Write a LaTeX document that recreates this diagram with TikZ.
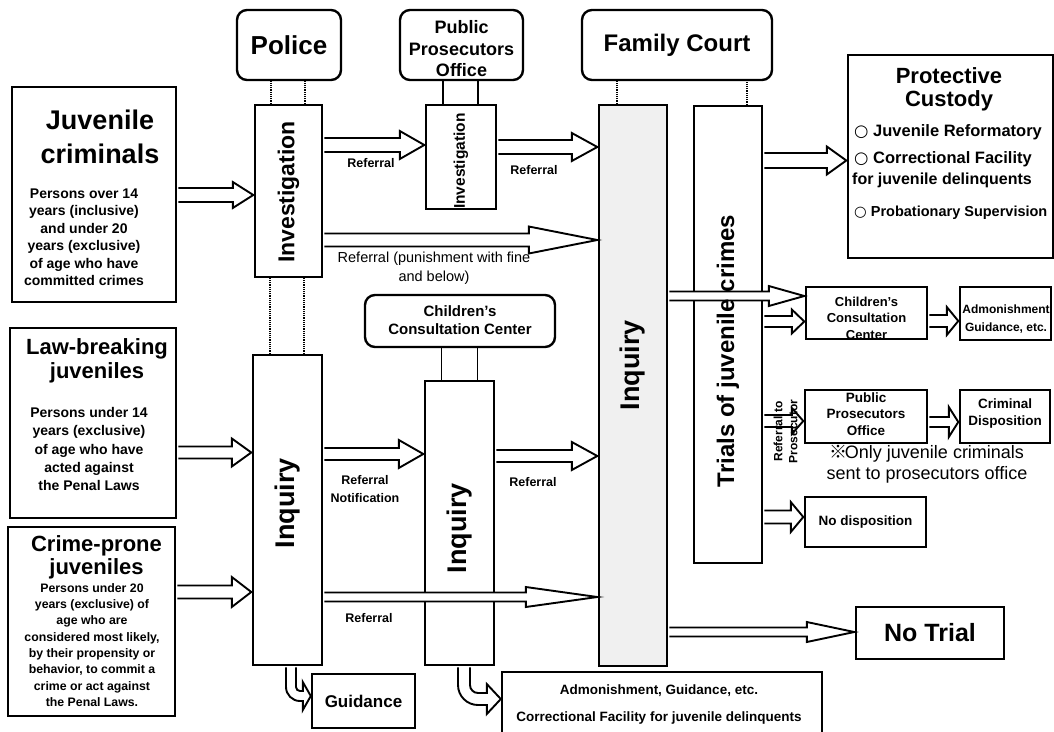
\documentclass[tikz,border=0pt]{standalone}
\usepackage{fontspec}
\setmainfont{Liberation Sans}
\newfontfamily\cjkfont{Noto Sans CJK JP}
\newfontfamily\symfont{DejaVu Sans}
\usetikzlibrary{calc}
\newcommand\fsz[2]{\fontsize{#1}{#2}\selectfont}
% hollow block arrow: from node, to node, row y, shaft half width, head half width, head length
\newcommand\harrow[6]{%
  \draw[blk] let \p1=(#1.east |- 0,#3), \p2=(#2.west |- 0,#3) in
    (\x1+1.2pt,\y1+#4pt) -- (\x2-#6pt,\y1+#4pt) -- (\x2-#6pt,\y1+#5pt) -- (\x2-0.5pt,\y1)
    -- (\x2-#6pt,\y1-#5pt) -- (\x2-#6pt,\y1-#4pt) -- (\x1+1.2pt,\y1-#4pt);}
% hollow arrow leaving a box downwards and turning right into another box
% from, to, shaft x, row y, shaft half width, head half width, head length, outer radius, inner radius
\newcommand\bentarrow[9]{%
  \draw[blk] let \p1=(#1.south -| #3,0), \p2=(#2.west |- 0,#4) in
    (\x1-#5pt,\y1-1.2pt) -- (\x1-#5pt,\y2-#5pt+#8pt)
    arc[start angle=180,end angle=270,radius=#8pt]
    -- (\x2-#7pt,\y2-#5pt) -- (\x2-#7pt,\y2-#6pt) -- (\x2,\y2) -- (\x2-#7pt,\y2+#6pt)
    -- (\x2-#7pt,\y2+#5pt) -- (\x1+#5pt+#9pt,\y2+#5pt)
    arc[start angle=270,end angle=180,radius=#9pt]
    -- (\x1+#5pt,\y1-1.2pt);}
\begin{document}
\begin{tikzpicture}[x=1pt,y=-1pt,
  box/.style={draw, line width=2.4pt, fill=white, inner sep=0pt},
  rbox/.style={box, rounded corners=10pt},
  blk/.style={draw, line width=1.9pt, fill=white, line join=miter},
  tie/.style={line width=1.2pt, densely dotted},
  tiesolid/.style={line width=1.2pt},
  txt/.style={inner sep=0pt, align=center},
]
\useasboundingbox (0,0) rectangle (1054,731);

% ---------- who comes in ----------
\node[box, minimum width=164pt, minimum height=215pt] (juv) at (94,194.5) {};
\node[txt, font=\fsz{27}{34}\bfseries] (juv-t) at (100,137) {Juvenile\\criminals};
\node[txt, font=\fsz{14}{17.5}\bfseries] (juv-b) at (84,237) {Persons over 14\\years (inclusive)\\and under 20\\years (exclusive)\\of age who have\\committed crimes};

\node[box, minimum width=166pt, minimum height=190pt] (law) at (93,423) {};
\node[txt, font=\fsz{22}{24}\bfseries] (law-t) at (97,361) {Law-breaking\\juveniles};
\node[txt, font=\fsz{14}{18.2}\bfseries] (law-b) at (89,449) {Persons under 14\\years (exclusive)\\of age who have\\acted against\\the Penal Laws};

\node[box, minimum width=167pt, minimum height=189pt] (crime) at (91.5,621.5) {};
\node[txt, font=\fsz{22}{23}\bfseries] (crime-t) at (96.5,557) {Crime-prone\\juveniles};
\node[txt, font=\fsz{12.3}{16.3}\bfseries] (crime-b) at (92,645) {Persons under 20\\years (exclusive) of\\age who are\\considered most likely,\\by their propensity or\\behavior, to commit a\\crime or act against\\the Penal Laws.};

% ---------- police ----------
\node[rbox, minimum width=104pt, minimum height=70pt, font=\fsz{26}{30}\bfseries] (police) at (289,45) {Police};
\node[box, minimum width=67pt, minimum height=172pt] (pinv) at (288.5,191) {};
\node[box, minimum width=69pt, minimum height=310pt] (pinq) at (287.5,510) {};

% ---------- public prosecutors office ----------
\node[rbox, minimum width=123pt, minimum height=70pt] (ppo) at (461.5,45) {};
\node[box, minimum width=70pt, minimum height=104pt] (ppinv) at (461,157) {};

% ---------- children's consultation center ----------
\node[rbox, minimum width=190pt, minimum height=52pt] (ccc) at (460,321) {};
\node[box, minimum width=69pt, minimum height=284pt] (cinq) at (459.5,523) {};

% ---------- family court ----------
\node[rbox, minimum width=190pt, minimum height=70pt, font=\fsz{24}{28}\bfseries] (court) at (677,45) {Family Court};
\node[box, fill=black!6, minimum width=68pt, minimum height=561pt] (fcinq) at (633,385.5) {};
\node[box, minimum width=68pt, minimum height=457pt] (trials) at (728,334.5) {};

% ---------- outcomes ----------
\node[box, minimum width=205pt, minimum height=203pt] (prot) at (950.5,156.5) {};
\node[box, minimum width=121pt, minimum height=52pt] (ccr) at (866.5,313) {};
\node[box, minimum width=91pt, minimum height=53pt] (admr) at (1005.5,313.5) {};
\node[box, minimum width=122pt, minimum height=53pt] (ppr) at (866,416.5) {};
\node[box, minimum width=90pt, minimum height=53pt] (crim) at (1005,416.5) {};
\node[box, minimum width=121pt, minimum height=50pt, font=\fsz{13.5}{16}\bfseries] (nodisp) at (865.5,522) {No disposition};
\node[box, minimum width=148pt, minimum height=52pt, font=\fsz{25}{28}\bfseries] (notrial) at (930,633) {No Trial};
\node[box, minimum width=103pt, minimum height=54pt, font=\fsz{17}{20}\bfseries] (guid) at (363.5,701) {Guidance};
\node[box, minimum width=320pt, minimum height=68pt] (admb) at (662,706) {};

% ---------- ties between offices and their procedures ----------
\draw[tie] ([xshift=-17.5pt]pinv.north) -- ([xshift=-17.5pt]pinv.north |- police.south);
\draw[tie] ([xshift=16.5pt]pinv.north) -- ([xshift=16.5pt]pinv.north |- police.south);
\draw[tie] ([xshift=-17.5pt]pinq.north) -- ([xshift=-17.5pt]pinq.north |- pinv.south);
\draw[tie] ([xshift=16.5pt]pinq.north) -- ([xshift=16.5pt]pinq.north |- pinv.south);
\draw[tiesolid] ([xshift=-18pt]ppinv.north) -- ([xshift=-18pt]ppinv.north |- ppo.south);
\draw[tiesolid] ([xshift=17pt]ppinv.north) -- ([xshift=17pt]ppinv.north |- ppo.south);
\draw[tiesolid] ([xshift=-18pt]cinq.north) -- ([xshift=-18pt]cinq.north |- ccc.south);
\draw[tiesolid] ([xshift=18pt]cinq.north) -- ([xshift=18pt]cinq.north |- ccc.south);
\draw[tie] ([xshift=-16pt]fcinq.north) -- ([xshift=-16pt]fcinq.north |- court.south);
\draw[tie] ([xshift=19pt]trials.north) -- ([xshift=19pt]trials.north |- court.south);

% ---------- flows ----------
\harrow{juv}{pinv}{195}{7}{13}{21}
\harrow{law}{pinq}{452.5}{6}{14}{20}
\harrow{crime}{pinq}{592}{6.5}{15}{20}
\harrow{pinv}{ppinv}{145}{7}{14}{25}
\harrow{ppinv}{fcinq}{147}{7}{14}{26}
\harrow{pinv}{fcinq}{240}{6.5}{13.5}{69}
\harrow{pinq}{cinq}{454}{6}{14}{25}
\harrow{cinq}{fcinq}{456}{6}{14}{26}
\harrow{pinq}{fcinq}{597}{4.5}{10}{72}
\harrow{fcinq}{ccr}{296}{4.5}{10}{36}
\harrow{trials}{ccr}{321.5}{5.5}{12}{13}
\harrow{ccr}{admr}{321}{6}{14}{12}
\harrow{trials}{prot}{160.5}{7.5}{14}{20}
\harrow{trials}{ppr}{421}{6}{13}{12}
\harrow{ppr}{crim}{422}{5}{15}{10}
\harrow{trials}{nodisp}{517}{6.5}{15}{13}
\harrow{fcinq}{notrial}{632}{4.5}{10}{48}
\bentarrow{pinq}{guid}{291}{696}{5}{14}{8}{14}{4}
\bentarrow{cinq}{admb}{464}{699}{6}{15}{14}{20}{8}

% ---------- texts inside the boxes ----------
\node[txt, rotate=90, font=\fsz{23}{26}\bfseries] (pinv-t) at (288.5,192) {Investigation};
\node[txt, rotate=90, font=\fsz{27}{30}\bfseries] (pinq-t) at (287.5,503) {Inquiry};
\node[txt, font=\fsz{18}{21.5}\bfseries] (ppo-t) at (461.5,49) {Public\\Prosecutors\\Office};
\node[txt, rotate=90, font=\fsz{15.5}{18}\bfseries] (ppinv-t) at (461,161) {Investigation};
\node[txt, font=\fsz{15}{18}\bfseries] (ccc-t) at (460,320) {Children’s\\Consultation Center};
\node[txt, rotate=90, font=\fsz{27}{30}\bfseries] (cinq-t) at (459.5,528) {Inquiry};
\node[txt, rotate=90, font=\fsz{27}{30}\bfseries] (fcinq-t) at (633,365) {Inquiry};
\node[txt, rotate=90, font=\fsz{24}{28}\bfseries] (trials-t) at (728,351) {Trials of juvenile crimes};

\node[txt, font=\fsz{22}{23}\bfseries] (prot-t) at (949,89) {Protective\\Custody};
\node[txt, anchor=west, font=\fsz{16.5}{18}\bfseries] (pc1) at (854,132) {{\symfont ○} Juvenile Reformatory};
\node[txt, anchor=west, font=\fsz{16.5}{18}\bfseries] (pc2) at (854,159) {{\symfont ○} Correctional Facility};
\node[txt, anchor=west, font=\fsz{16}{18}\bfseries] (pc3) at (852,180) {for juvenile delinquents};
\node[txt, anchor=west, font=\fsz{14.5}{18}\bfseries] (pc4) at (854,213) {{\symfont ○} Probationary Supervision};

\node[txt, font=\fsz{13}{16.5}\bfseries] (ccr-t) at (866.5,318) {Children’s\\Consultation\\Center};
\node[txt, font=\fsz{12}{18}\bfseries] (admr-t) at (1006,319) {Admonishment\\Guidance, etc.};
\node[txt, font=\fsz{13.5}{16.5}\bfseries] (ppr-t) at (866,414) {Public\\Prosecutors\\Office};
\node[txt, font=\fsz{13.5}{17}\bfseries] (crim-t) at (1005,414) {Criminal\\Disposition};
\node[txt, font=\fsz{18}{21}\mdseries] (note) at (927,464) {{\cjkfont ※}\hspace{-3pt}Only juvenile criminals\\sent to prosecutors office};
\node[txt, font=\fsz{13.5}{27}\bfseries] (admb-t) at (659,704) {Admonishment, Guidance, etc.\\Correctional Facility for juvenile delinquents};

% ---------- flow labels ----------
\node[txt, font=\fsz{12.5}{15}\bfseries] (l1) at (371,163) {Referral};
\node[txt, font=\fsz{12.5}{15}\bfseries] (l2) at (534,170) {Referral};
\node[txt, font=\fsz{14.5}{19}\mdseries] (l3) at (434,268) {Referral (punishment with fine\\and below)};
\node[txt, font=\fsz{12.5}{18}\bfseries] (l4) at (365,489) {Referral\\Notification};
\node[txt, font=\fsz{12.5}{15}\bfseries] (l5) at (533,482) {Referral};
\node[txt, font=\fsz{12.5}{15}\bfseries] (l6) at (369,618) {Referral};
\node[txt, rotate=90, font=\fsz{12}{15}\bfseries] (l7) at (785.5,431.5) {Referral to\\Prosecutor};
\end{tikzpicture}
\end{document}
